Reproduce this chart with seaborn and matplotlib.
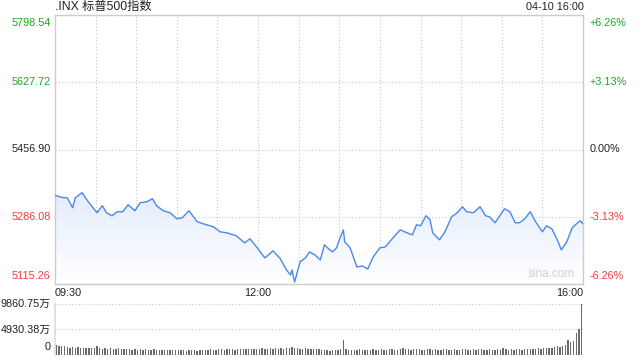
import numpy as np
import pandas as pd
import matplotlib
matplotlib.use("Agg")
import matplotlib.pyplot as plt
from matplotlib.colors import LinearSegmentedColormap
import seaborn as sns

# ---------------- data ----------------
title = ".INX 标普500指数"
stamp = "04-10 16:00"
prev_close = 5456.90

# minutes after 09:30
minutes = [0, 6, 9, 13, 15, 20, 24, 31, 35, 38, 42, 46, 50, 54, 59, 63, 68, 72, 75, 80,
           85, 90, 94, 99, 105, 112, 117, 122, 127, 134, 140, 144, 150, 155, 161, 166, 171, 174, 175, 177,
           181, 185, 188, 192, 196, 199, 203, 205, 208, 210, 213, 214, 218, 223, 227, 231, 235, 240, 244, 249,
           255, 260, 264, 267, 270, 274, 277, 279, 284, 288, 293, 297, 301, 304, 309, 314, 318, 321, 325, 329,
           332, 336, 340, 343, 347, 351, 355, 360, 363, 367, 371, 374, 378, 382, 386, 388, 390]
prices = [5340.4, 5334.5, 5334.5, 5309.0, 5334.5, 5347.2, 5326.9, 5296.2, 5314.1, 5296.2,
          5288.6, 5298.8, 5298.8, 5316.6, 5301.3, 5321.7, 5324.3, 5331.9, 5314.1, 5301.3,
          5296.2, 5280.9, 5283.5, 5301.3, 5273.3, 5265.6, 5260.5, 5247.8, 5245.2, 5237.6,
          5219.7, 5229.9, 5204.4, 5181.5, 5199.3, 5181.5, 5150.9, 5138.1, 5150.9, 5120.3,
          5171.3, 5181.5, 5196.8, 5189.1, 5176.4, 5214.6, 5201.9, 5196.8, 5207.0, 5227.4,
          5252.9, 5222.3, 5207.0, 5158.5, 5161.1, 5153.4, 5184.0, 5207.0, 5209.5, 5229.9,
          5252.9, 5245.2, 5240.1, 5265.6, 5263.1, 5288.6, 5278.4, 5245.2, 5227.4, 5247.8,
          5286.0, 5296.2, 5311.5, 5298.8, 5296.2, 5311.5, 5288.6, 5286.0, 5270.7, 5291.1,
          5306.4, 5298.8, 5270.7, 5270.7, 5280.9, 5298.8, 5273.3, 5247.8, 5263.1, 5255.4,
          5227.4, 5201.9, 5222.3, 5258.0, 5270.7, 5275.9, 5268.2]

price_ticks = [5115.26, 5286.08, 5456.90, 5627.72, 5798.54]
price_tick_labels = ["5115.26", "5286.08", "5456.90", "5627.72", "5798.54"]
pct_tick_labels = ["-6.26%", "-3.13%", "0.00%", "+3.13%", "+6.26%"]
time_labels = ["09:30", "12:00", "16:00"]
time_label_minutes = [0, 150, 390]

# volume (万) in 2-minute bars
vol_minutes = list(range(1, 390, 2))
volumes = [
    1900, 1750, 1800, 1650, 1500, 1450, 1550, 1400, 1500, 1450, 1400, 1350, 1450, 1400, 1350,
    1750, 1300, 1250, 1350, 1200, 1300, 1250, 1200, 1300, 1150, 1200,
    1100, 1150, 1050, 1100, 1000, 1150, 1050, 1100, 1000, 1050, 1100, 1000, 1050, 1000, 950, 1050, 1000,
    950, 900, 1000, 900, 950, 850, 900, 950, 900, 850, 950,
    1000, 1050, 1000, 1100, 1050, 1000, 1100, 1150, 1050, 1100, 1150, 1100, 1050, 1150, 1200, 1100, 1150, 1200,
    1150, 1250, 1200, 1150, 1300, 1250, 1200, 1300, 1250, 1350, 1200, 1300, 1250, 1400, 1300, 1500, 1350, 1300, 1250,
    1200, 1300, 1150, 1250, 1200, 1150, 1100,
    950, 900, 1000, 850, 950, 900, 1000, 1100,
    2900,
    1100, 1000, 1050, 950, 1000, 1100, 1050, 1000, 950, 1050, 1100, 1000, 1050, 1100, 1000, 1050, 1150, 1100, 1050, 1000, 1150,
    1350, 1100, 1150, 1050, 1100, 1150, 1100, 1000, 1050, 1100, 1150, 1050, 1100, 1000, 1050, 1100, 1150, 1050, 1000, 1100,
    1050, 1000, 1100, 1150, 1050, 1000, 1100, 1050, 1150, 1100, 1000, 1050, 1100, 1050, 1000, 1100, 1050,
    1450,
    1100, 1050, 1150, 1000, 1100, 1150, 1050, 1100, 1150, 1200,
    1200, 1250, 1300, 1250, 1350, 1400, 1300, 1450, 1500,
    1650, 1600, 1750, 1900,
    2900, 2500, 2800, 4250, 5000, 9860.75,
]
vol_max = 9860.75
vol_mid = 4930.38

# ---------------- style ----------------
sns.set_theme(style="white")
plt.rcParams["font.family"] = ["Liberation Sans", "Noto Sans CJK SC", "DejaVu Sans"]

GREEN = "#22a322"
RED = "#f03a3a"
DARK = "#222222"
GRID = "#c8c8c8"
LINE = "#4a88ec"
FS = 7.8

fig = plt.figure(figsize=(6.4, 3.6), dpi=100)
fig.patch.set_facecolor("white")
ax = fig.add_axes([55 / 640, 1 - 284 / 360, 528 / 640, 269 / 360])
vax = fig.add_axes([55 / 640, 1 - 355 / 360, 528 / 640, 51 / 360])

df = pd.DataFrame({"minute": minutes, "price": prices})
ymin, ymax = price_ticks[0], price_ticks[-1]

# gradient fill under the line
poly = ax.fill_between(df["minute"], df["price"], ymin, color="none", lw=0)
cmap = LinearSegmentedColormap.from_list("g", ["#ffffff", "#e4edfc"])
grad = np.linspace(0, 1, 256).reshape(-1, 1)
im = ax.imshow(grad, cmap=cmap, aspect="auto", origin="lower",
               extent=[0, 390, ymin, max(prices)], zorder=1)
im.set_clip_path(poly.get_paths()[0], transform=ax.transData)

sns.lineplot(data=df, x="minute", y="price", ax=ax, color=LINE, lw=1.0, zorder=3)

ax.set_xlim(0, 390)
ax.set_ylim(ymin, ymax)
ax.set_xlabel("")
ax.set_ylabel("")
ax.set_xticks(range(0, 391, 30))
ax.set_xticklabels([])
ax.set_yticks(price_ticks)
ax.set_yticklabels([])
ax.tick_params(length=0)
ax.grid(True, ls=(0, (1, 2)), color=GRID, lw=0.8)
for s in ax.spines.values():
    s.set_color("#cccccc")
    s.set_linewidth(1.0)

# left / right labels
colors = [RED, RED, DARK, GREEN, GREEN]
vas = ["bottom", "center", "center", "center", "top"]
offs = [2, 0, 0, 0, -2]
for v, lab, pct, c, va, o in zip(price_ticks, price_tick_labels, pct_tick_labels, colors, vas, offs):
    ax.annotate(lab, xy=(0, v), xycoords=("axes fraction", "data"), xytext=(-3, o),
                textcoords="offset points", ha="right", va=va, fontsize=FS, color=c)
    ax.annotate(pct, xy=(1, v), xycoords=("axes fraction", "data"), xytext=(5, o),
                textcoords="offset points", ha="left", va=va, fontsize=FS, color=c)

# time labels
has = ["left", "center", "right"]
for m, lab, ha in zip(time_label_minutes, time_labels, has):
    ax.annotate(lab, xy=(m, 0), xycoords=("data", "axes fraction"), xytext=(0, -3),
                textcoords="offset points", ha=ha, va="top", fontsize=FS, color=DARK)

fig.text(55 / 640, 1 - 7 / 360, title, ha="left", va="center", fontsize=8.8, color=DARK)
fig.text(584 / 640, 1 - 7 / 360, stamp, ha="right", va="center", fontsize=FS, color=DARK)
ax.text(0.985, 0.015, "sina.com", transform=ax.transAxes, ha="right", va="bottom",
        fontsize=8.5, color="#d0d0d0")

# volume
vdf = pd.DataFrame({"minute": vol_minutes, "vol": volumes})
sns.barplot(data=vdf, x="minute", y="vol", ax=vax, native_scale=True, color="#6a6a6a",
            width=0.5, errorbar=None, saturation=1, linewidth=0)
vax.set_xlim(0, 390)
vax.set_ylim(0, vol_max)
vax.set_xlabel("")
vax.set_ylabel("")
vax.set_xticks([])
vax.set_yticks([])
for k, s in vax.spines.items():
    s.set_visible(k == "left")
vax.spines["left"].set_color("#dddddd")
for v in [vol_mid, vol_max]:
    vax.axhline(v, ls=(0, (1, 2)), color=GRID, lw=0.8, clip_on=False, zorder=0)
for v, lab, va in [(vol_max, "9860.75万", "center"), (vol_mid, "4930.38万", "center"), (0, "0", "bottom")]:
    vax.annotate(lab, xy=(0, v), xycoords=("axes fraction", "data"), xytext=(-3, 2 if va == "bottom" else 0),
                 textcoords="offset points", ha="right", va=va, fontsize=FS, color=DARK)

fig.savefig("out.png", dpi=100)
